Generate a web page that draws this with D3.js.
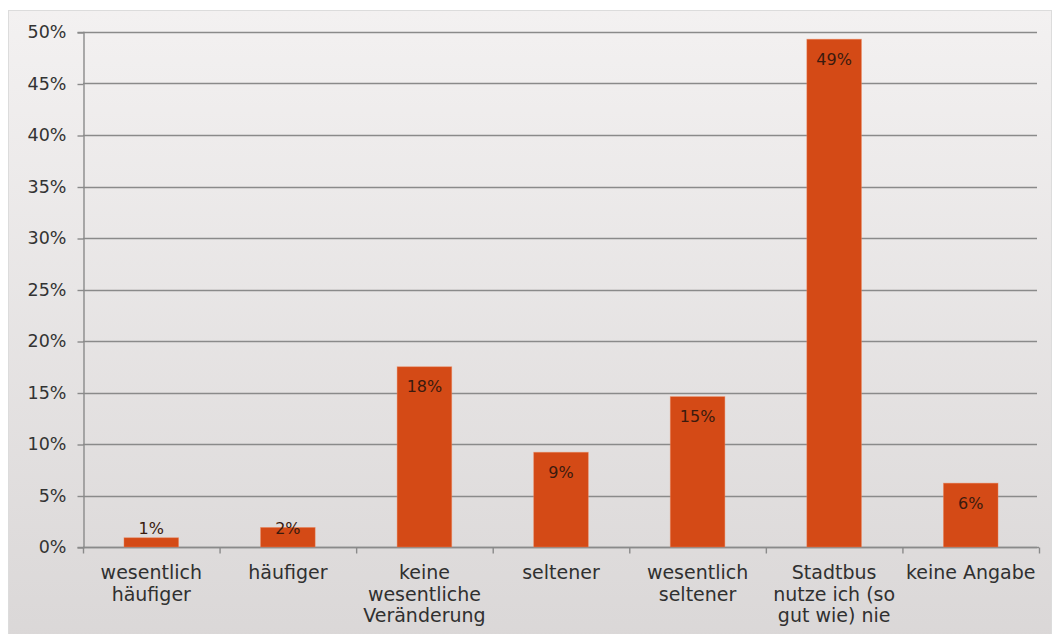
<!DOCTYPE html>
<html>
<head>
<meta charset="utf-8">
<script src="https://cdn.jsdelivr.net/npm/d3@7"></script>
<style>
  html, body { margin: 0; padding: 0; background: #ffffff; }
  svg { display: block; font-family: "DejaVu Sans", Verdana, sans-serif; }
</style>
</head>
<body>
<svg id="chart" width="1055" height="634"></svg>
<script>
// Survey answers: how often the city bus is used now
const categories = [
  ["wesentlich", "häufiger"],
  ["häufiger"],
  ["keine", "wesentliche", "Veränderung"],
  ["seltener"],
  ["wesentlich", "seltener"],
  ["Stadtbus", "nutze ich (so", "gut wie) nie"],
  ["keine Angabe"]
];
const shares = [0.9, 1.9, 17.5, 9.2, 14.6, 49.3, 6.2];
const yTicks = [0, 5, 10, 15, 20, 25, 30, 35, 40, 45, 50];

const svg = d3.select("#chart");
const W = 1055, H = 634;
const margin = { left: 83, right: 16, top: 32, bottom: 87 };

// background panel with soft vertical gradient
const defs = svg.append("defs");
const grad = defs.append("linearGradient").attr("id", "bg")
  .attr("x1", 0).attr("y1", 0).attr("x2", 0).attr("y2", 1);
grad.append("stop").attr("offset", "0%").attr("stop-color", "#f3f1f1");
grad.append("stop").attr("offset", "100%").attr("stop-color", "#dad7d7");

svg.append("rect")
  .attr("x", 8.5).attr("y", 10.5)
  .attr("width", 1043).attr("height", 640)
  .attr("fill", "url(#bg)")
  .attr("stroke", "#dcdcdc");

const keys = categories.map((c, i) => i);
const x = d3.scaleBand()
  .domain(keys)
  .range([margin.left, W - margin.right])
  .paddingInner(0.6).paddingOuter(0.3);

const y = d3.scaleLinear()
  .domain([0, 50])
  .range([H - margin.bottom, margin.top]);

// horizontal gridlines
svg.append("g")
  .selectAll("line")
  .data(yTicks)
  .join("line")
  .attr("x1", margin.left).attr("x2", W - margin.right - 2)
  .attr("y1", d => Math.round(y(d)) + 0.5)
  .attr("y2", d => Math.round(y(d)) + 0.5)
  .attr("stroke", "#8a8a8a")
  .attr("stroke-width", 1.4);

// y axis
const yAxis = d3.axisLeft(y)
  .tickValues(yTicks)
  .tickSize(6)
  .tickPadding(11)
  .tickFormat(d => d + "%");
const gy = svg.append("g")
  .attr("transform", `translate(${margin.left + 0.5},0)`)
  .call(yAxis);
gy.select(".domain").attr("stroke", "#8a8a8a").attr("stroke-width", 1.4);
gy.selectAll(".tick line").attr("stroke", "#8a8a8a").attr("stroke-width", 1.4)
  .attr("transform", "translate(0,0.5)");
gy.selectAll(".tick text")
  .attr("fill", "#333333")
  .attr("font-size", 17.5)
  .attr("font-family", "DejaVu Sans, Verdana, sans-serif");

// x axis baseline and tick marks at the category boundaries
const boundaries = d3.range(keys.length + 1).map(i => margin.left + i * (W - margin.right - margin.left) / keys.length);
const y0 = Math.round(y(0)) + 0.5;
svg.append("line")
  .attr("x1", margin.left).attr("x2", W - margin.right)
  .attr("y1", y0).attr("y2", y0)
  .attr("stroke", "#8a8a8a").attr("stroke-width", 1.4);
svg.append("g")
  .selectAll("line")
  .data(boundaries)
  .join("line")
  .attr("x1", d => d + 0.5).attr("x2", d => d + 0.5)
  .attr("y1", y0).attr("y2", y0 + 6)
  .attr("stroke", "#8a8a8a").attr("stroke-width", 1.4);

// bars
svg.append("g")
  .selectAll("rect")
  .data(shares)
  .join("rect")
  .attr("x", (d, i) => x(i))
  .attr("width", x.bandwidth())
  .attr("y", d => y(d))
  .attr("height", d => y(0) - y(d))
  .attr("fill", "#d44a16")
  .attr("stroke", "#f08a60")
  .attr("stroke-width", 0.8)
  .attr("stroke-opacity", 0.5);

// value labels near the top of each bar
svg.append("g")
  .selectAll("text")
  .data(shares)
  .join("text")
  .attr("x", (d, i) => x(i) + x.bandwidth() / 2)
  .attr("y", d => Math.min(y(d) + 20, y(0) - 19))
  .attr("dy", "0.35em")
  .attr("text-anchor", "middle")
  .attr("font-size", 16)
  .attr("fill", "#3a1a0e")
  .text(d => Math.round(d) + "%");

// category labels, one line per text row
const cat = svg.append("g")
  .selectAll("text")
  .data(categories)
  .join("text")
  .attr("x", (d, i) => x(i) + x.bandwidth() / 2)
  .attr("y", 579)
  .attr("text-anchor", "middle")
  .attr("font-size", 19)
  .attr("fill", "#303030");
cat.selectAll("tspan")
  .data(d => d)
  .join("tspan")
  .attr("x", function () { return this.parentNode.getAttribute("x"); })
  .attr("dy", (d, i) => i === 0 ? 0 : 21.5)
  .text(d => d);
</script>
</body>
</html>
